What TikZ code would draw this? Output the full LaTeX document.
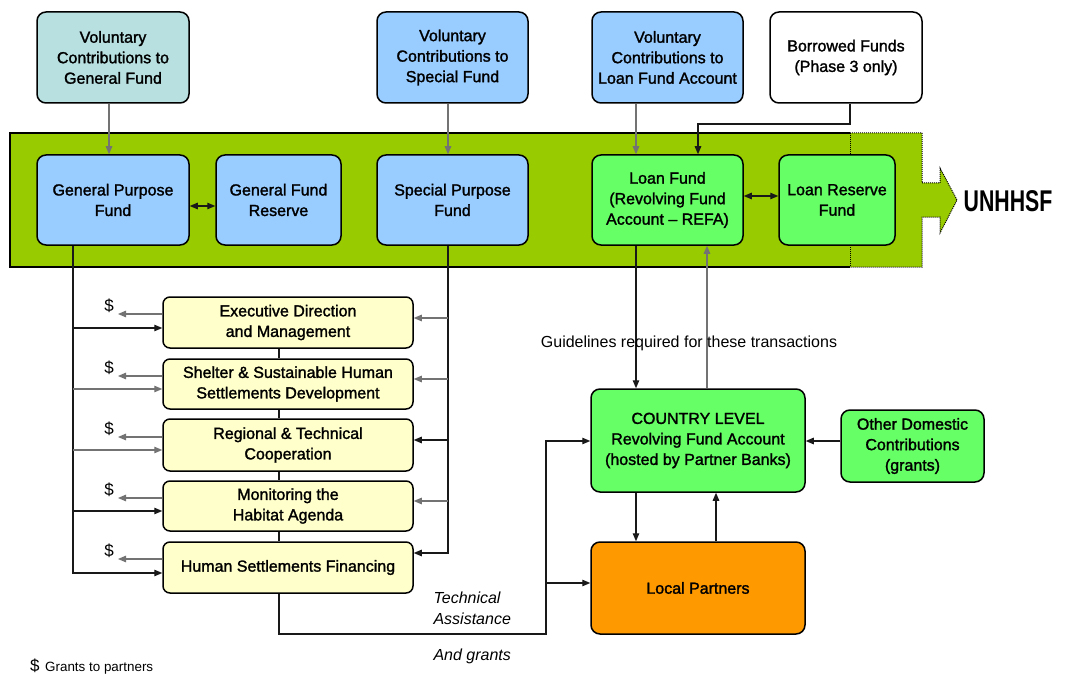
\documentclass[tikz,border=0pt]{standalone}
\usepackage{fontspec}
\setmainfont{Liberation Sans}
\newfontfamily\bxf{Liberation Sans}[RawFeature={embolden=1.6}]
\usetikzlibrary{arrows.meta,calc}
\definecolor{tealbox}{HTML}{B8E0E0}
\definecolor{bluebox}{HTML}{99CCFF}
\definecolor{greenbox}{HTML}{66FF66}
\definecolor{yellowbox}{HTML}{FFFFCC}
\definecolor{orangebox}{HTML}{FF9900}
\definecolor{band}{HTML}{99CC00}
\tikzset{
  box/.style={draw=black, line width=1.5pt, rounded corners=9pt, align=center, inner sep=0pt,
    font=\bxf\fontsize{16}{20.5}\selectfont},
  arr/.style={line width=1.2pt, -{Triangle[length=8pt,width=6.5pt]}},
  dar/.style={line width=1.2pt, {Triangle[length=8pt,width=6.5pt]}-{Triangle[length=8pt,width=6.5pt]}},
  ln/.style={line width=1.2pt},
  gl/.style={draw=black!55},
  bl/.style={draw=black!90},
}
\begin{document}
\begin{tikzpicture}[x=1pt,y=-1pt]
\useasboundingbox (0,0) rectangle (1069,674);
% band
\fill[band] (10,133) rectangle (922,267);
\fill[band] (922,183) -- (940,183) -- (940,168) -- (957,200) -- (940,233) -- (940,217) -- (922,217) -- cycle;
\draw[line width=1.2pt] (850,133) -- (10,133) -- (10,267) -- (850,267);
\draw[line width=1pt, densely dotted] (850,133) -- (922,133) -- (922,183) -- (940,183) -- (940,168) -- (957,200) -- (940,233) -- (940,217) -- (922,217) -- (922,267) -- (850,267);
\draw[line width=1pt, densely dotted] (850,133) -- (850,267);
\node[anchor=center] (unh) at (1008,201) {\fontsize{30}{30}\selectfont\scalebox{0.71}[1]{\bfseries UNHHSF}};

% top boxes
\node[box, fill=tealbox, minimum width=152pt, minimum height=91pt] (vcgf) at (113,57.5) {Voluntary\\Contributions to\\General Fund};
\node[box, fill=bluebox, minimum width=151pt, minimum height=91pt] (vcsf) at (452.5,57.5) {Voluntary\\Contributions to\\Special Fund};
\node[box, fill=bluebox, minimum width=151pt, minimum height=91pt] (vclfa) at (667.5,57.5) {Voluntary\\Contributions to\\Loan Fund Account};
\node[box, fill=white, minimum width=152pt, minimum height=91pt] (borr) at (846,57.5) {Borrowed Funds\\(Phase 3 only)};

% band boxes
\node[box, fill=bluebox, minimum width=152pt, minimum height=90pt] (gpf) at (113,200) {General Purpose\\Fund};
\node[box, fill=bluebox, minimum width=125pt, minimum height=90pt] (gfr) at (278.5,200) {General Fund\\Reserve};
\node[box, fill=bluebox, minimum width=151pt, minimum height=90pt] (spf) at (452.5,200) {Special Purpose\\Fund};
\node[box, fill=greenbox, minimum width=151pt, minimum height=90pt] (lf) at (667.5,200) {Loan Fund\\(Revolving Fund\\Account – REFA)};
\node[box, fill=greenbox, minimum width=116pt, minimum height=90pt] (lrf) at (837,200) {Loan Reserve\\Fund};

% yellow boxes
\tikzset{ybox/.style={box, fill=yellowbox, minimum width=250pt, rounded corners=7pt}}
\node[ybox, minimum height=51pt] (edm) at (288,322.5) {Executive Direction\\and Management};
\node[ybox, minimum height=50pt] (ssh) at (288,384) {Shelter \& Sustainable Human\\Settlements Development};
\node[ybox, minimum height=52pt] (rtc) at (288,445) {Regional \& Technical\\Cooperation};
\node[ybox, minimum height=50pt] (mha) at (288,506) {Monitoring the\\Habitat Agenda};
\node[ybox, minimum height=51pt] (hsf) at (288,567.5) {Human Settlements Financing};

% lower right boxes
\node[box, fill=greenbox, minimum width=214pt, minimum height=103pt] (cty) at (698,440.5) {COUNTRY LEVEL\\Revolving Fund Account\\(hosted by Partner Banks)};
\node[box, fill=greenbox, minimum width=143pt, minimum height=72pt] (odc) at (912.5,446) {Other Domestic\\Contributions\\(grants)};
\node[box, fill=orangebox, minimum width=214pt, minimum height=92pt] (lp) at (698,588) {Local Partners};

% x positions
\coordinate (x73) at (73,0);
\coordinate (x109) at (109,0);
\coordinate (x448) at (448,0);
\coordinate (x636) at (636,0);
\coordinate (x698) at (698,0);
\coordinate (x707) at (707,0);
\coordinate (x716) at (716,0);
\coordinate (x850) at (850,0);
\coordinate (x279) at (279,0);
\coordinate (x546) at (546,0);

% top connectors
\draw[arr, gl] (vcgf.south -| x109) -- (gpf.north -| x109);
\draw[arr, gl] (vcsf.south -| x448) -- (spf.north -| x448);
\draw[arr, gl] (vclfa.south -| x636) -- (lf.north -| x636);
\coordinate (bk) at (850,124);
\draw[arr, bl] (borr.south -| x850) -- (bk) -| (lf.north -| x698);
\draw[dar, bl] (gpf.east |- 0,206) -- (gfr.west |- 0,206);
\draw[dar, bl] (lf.east |- 0,196) -- (lrf.west |- 0,196);

% left bus
\draw[arr, bl] (gpf.south -| x73) |- (hsf.west |- 0,573);
\draw[arr, bl] (73,328) -- (edm.west |- 0,328);
\draw[arr, gl] (73,389) -- (ssh.west |- 0,389);
\draw[arr, gl] (73,450) -- (rtc.west |- 0,450);
\draw[arr, bl] (73,511) -- (mha.west |- 0,511);

% grants arrows
\foreach \n/\y in {edm/314, ssh/376, rtc/437, mha/498, hsf/559}{
  \draw[arr, gl] (\n.west |- 0,\y) -- (118,\y);
  \node[font=\fontsize{17}{17}\selectfont] at (109,\y-8) {\$};
}

% right bus
\draw[arr, bl] (spf.south -| x448) |- (hsf.east |- 0,553);
\draw[arr, gl] (448,318) -- (edm.east |- 0,318);
\draw[arr, gl] (448,379) -- (ssh.east |- 0,379);
\draw[arr, bl] (448,440) -- (rtc.east |- 0,440);
\draw[arr, gl] (448,501) -- (mha.east |- 0,501);

% vertical links between yellow boxes
\draw[ln, bl] (edm.south -| x279) -- (ssh.north -| x279);
\draw[ln, bl] (ssh.south -| x279) -- (rtc.north -| x279);
\draw[ln, bl] (rtc.south -| x279) -- (mha.north -| x279);
\draw[ln, bl] (mha.south -| x279) -- (hsf.north -| x279);

% loan fund to country
\draw[arr, bl] (lf.south -| x636) -- (cty.north -| x636);
\draw[arr, gl] (cty.north -| x707) -- (lf.south -| x707);
\node[font=\fontsize{16}{16}\selectfont] (guid) at (689,343) {Guidelines required for these transactions};
\draw[arr, bl] (odc.west |- 0,441) -- (cty.east |- 0,441);
\draw[arr, bl] (cty.south -| x636) -- (lp.north -| x636);
\draw[arr, bl] (lp.north -| x716) -- (cty.south -| x716);

% technical assistance
\coordinate (ta1) at (279,634);
\coordinate (ta2) at (546,634);
\draw[arr, bl] (hsf.south -| x279) -- (ta1) -- (ta2) |- (cty.west |- 0,441);
\draw[arr, bl] (546,583) -- (lp.west |- 0,583);
\node[anchor=west, align=left, font=\itshape\fontsize{16}{21}\selectfont] (ta) at (430,608) {Technical\\Assistance};
\node[anchor=west, font=\itshape\fontsize{16}{16}\selectfont] (ag) at (430,656) {And grants};

% legend
\node[anchor=base west, inner sep=0pt, font=\fontsize{17}{17}\selectfont] (dl) at (30,671) {\$};
\node[anchor=base west, inner sep=0pt, font=\fontsize{13.4}{14}\selectfont] (gl) at (45,671) {Grants to partners};
\end{tikzpicture}
\end{document}
